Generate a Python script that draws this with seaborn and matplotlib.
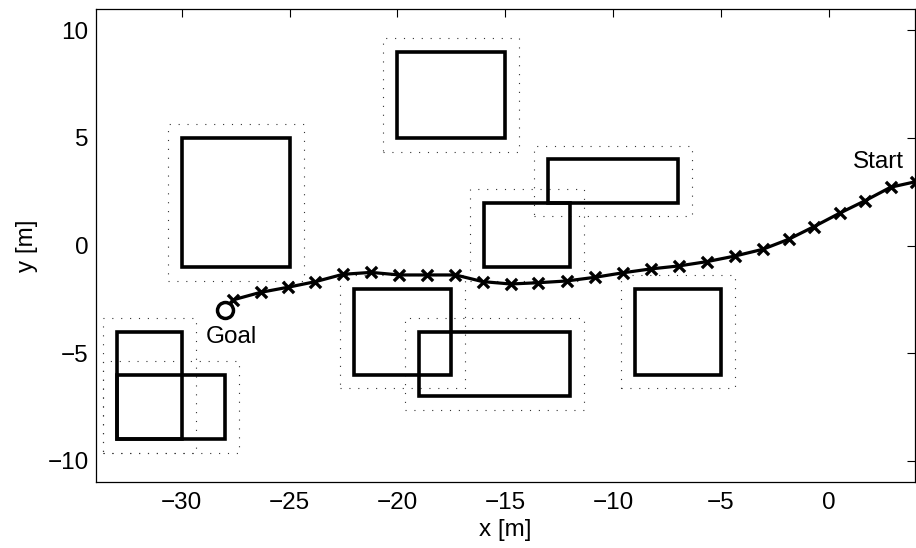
import numpy as np
import pandas as pd
import matplotlib
matplotlib.use("Agg")
import matplotlib.pyplot as plt
import seaborn as sns
from matplotlib.patches import Rectangle

# ---- data ----
# obstacles: lower-left x, lower-left y, width, height
obs_x = [-30, -20, -13, -16, -22, -19, -9, -33, -33]
obs_y = [-1, 5, 2, -1, -6, -7, -6, -9, -9]
obs_w = [5, 5, 6, 4, 4.5, 7, 4, 3, 5]
obs_h = [6, 4, 2, 3, 4, 3, 4, 5, 3]
margin = 0.65

traj_x = [4.04, 2.87, 1.68, 0.50, -0.70, -1.86, -3.07, -4.35, -5.65, -6.95,
          -8.26, -9.55, -10.85, -12.16, -13.46, -14.75, -16.04, -17.31,
          -18.62, -19.92, -21.22, -22.53, -23.80, -25.07, -26.35, -27.63]
traj_y = [2.97, 2.71, 2.08, 1.50, 0.87, 0.29, -0.18, -0.49, -0.75, -0.95,
          -1.09, -1.27, -1.48, -1.65, -1.73, -1.79, -1.68, -1.37,
          -1.37, -1.37, -1.25, -1.34, -1.68, -1.94, -2.18, -2.53]
goal = (-28.0, -3.0)

xticks = [-30, -25, -20, -15, -10, -5, 0]
yticks = [-10, -5, 0, 5, 10]

sns.set_theme(style="white")
plt.rcParams['font.family'] = ['Liberation Sans', 'DejaVu Sans']
plt.rcParams['text.color'] = 'black'
plt.rcParams['axes.labelcolor'] = 'black'

FS = 17.5

fig = plt.figure(figsize=(9.16, 5.48), dpi=100)
ax = fig.add_axes([0.1043, 0.1204, 0.8946, 0.8632])

for x, y, w, h in zip(obs_x, obs_y, obs_w, obs_h):
    ax.add_patch(Rectangle((x - margin, y - margin), w + 2 * margin, h + 2 * margin,
                           fill=False, edgecolor='0.2', lw=0.8,
                           linestyle=(0, (1, 7)), zorder=2))
for x, y, w, h in zip(obs_x, obs_y, obs_w, obs_h):
    ax.add_patch(Rectangle((x, y), w, h, fill=False, edgecolor='black',
                           lw=2.6, joinstyle='miter', zorder=3))

df = pd.DataFrame({"x": traj_x + [goal[0]], "y": traj_y + [goal[1]]})
sns.lineplot(data=df, x="x", y="y", sort=False, color='black', lw=2.3,
             ax=ax, zorder=4)
sns.scatterplot(x=traj_x, y=traj_y, marker='x', s=65, color='black',
                linewidth=2.4, ax=ax, zorder=5)
ax.plot([goal[0]], [goal[1]], marker='o', ms=11.5, mfc='white', mec='black',
        mew=2.5, zorder=6)

ax.text(2.3, 3.6, "Start", ha='center', va='baseline', fontsize=FS)
ax.text(-27.7, -4.55, "Goal", ha='center', va='baseline', fontsize=FS)

ax.set_xlim(-34, 4)
ax.set_ylim(-11, 11)
ax.set_xticks(xticks)
ax.set_yticks(yticks)
ax.tick_params(direction='in', length=6, width=0.8, color='black',
               top=True, right=True, labelsize=FS, labelcolor='black')
ax.tick_params(axis='x', pad=7)
ax.tick_params(axis='y', pad=5)
ax.set_xlabel("x [m]", fontsize=FS, labelpad=4)
ax.set_ylabel("y [m]", fontsize=FS, labelpad=7)
for s in ax.spines.values():
    s.set_color('black')
    s.set_linewidth(0.9)
ax.grid(False)

fig.savefig("out.png", dpi=100)
